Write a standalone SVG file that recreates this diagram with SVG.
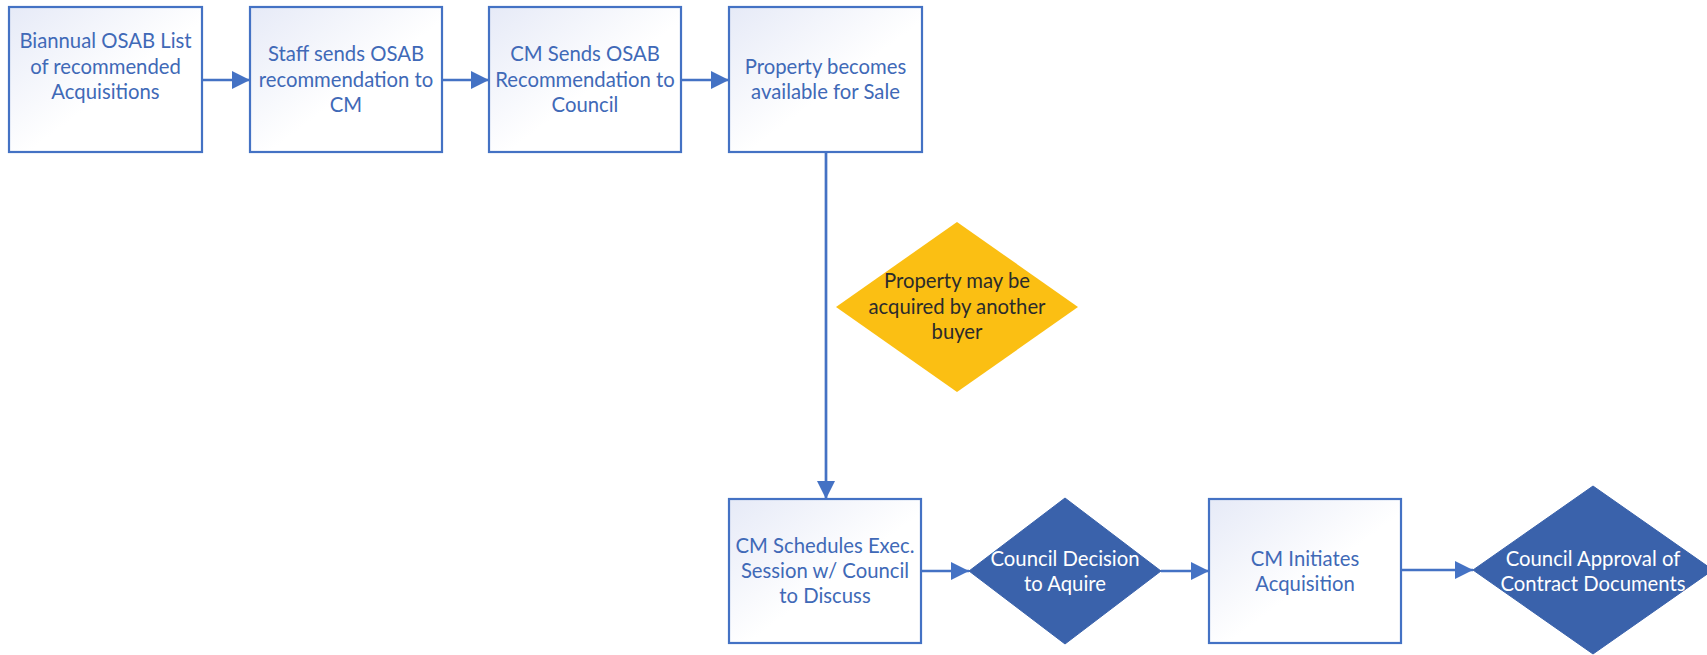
<svg xmlns="http://www.w3.org/2000/svg" width="1707" height="655" viewBox="0 0 1707 655">
<style>
.box{fill:url(#g);stroke:#4472C4;stroke-width:2.2}
.t{font-family:Lato,"Liberation Sans",sans-serif;font-size:20.3px;fill:#4069B7;text-anchor:middle}
.tw{font-family:Lato,"Liberation Sans",sans-serif;font-size:20.3px;fill:#FFFFFF;text-anchor:middle}
.td{font-family:Lato,"Liberation Sans",sans-serif;font-size:20.3px;fill:#2B2B2B;text-anchor:middle}
.dk{fill:#3A62AB;stroke:#3A62AB;stroke-width:1}
.c{stroke:#4472C4;stroke-width:2.7;fill:none;marker-end:url(#a)}
</style>
<defs>
<linearGradient id="g" x1="0" y1="0" x2="1" y2="1">
<stop offset="0" stop-color="#E6EAF7"/>
<stop offset="0.55" stop-color="#FFFFFF"/>
</linearGradient>
<marker id="a" markerUnits="userSpaceOnUse" markerWidth="19" markerHeight="19" refX="18" refY="9" orient="auto" viewBox="0 0 19 19">
<path d="M0,0 L18,9 L0,18 z" fill="#4472C4"/>
</marker>
</defs>
<rect width="1707" height="655" fill="#FFFFFF"/>
<g id="connectors">
<line class="c" x1="202" y1="80" x2="250" y2="80"/>
<line class="c" x1="442" y1="80" x2="489" y2="80"/>
<line class="c" x1="681" y1="80" x2="729" y2="80"/>
<line class="c" x1="826" y1="152" x2="826" y2="499"/>
<line class="c" x1="921" y1="571" x2="969" y2="571"/>
<line class="c" x1="1161" y1="571" x2="1209" y2="571"/>
<line class="c" x1="1401" y1="570" x2="1473" y2="570"/>
</g>
<g id="n1">
<rect class="box" x="9" y="7" width="193" height="145"/>
<text class="t" x="105.5" y="48">Biannual OSAB List</text>
<text class="t" x="105.5" y="73.5">of recommended</text>
<text class="t" x="105.5" y="99">Acquisitions</text>
</g>
<g id="n2">
<rect class="box" x="250" y="7" width="192" height="145"/>
<text class="t" x="346" y="61">Staff sends OSAB</text>
<text class="t" x="346" y="86.5">recommendation to</text>
<text class="t" x="346" y="112">CM</text>
</g>
<g id="n3">
<rect class="box" x="489" y="7" width="192" height="145"/>
<text class="t" x="585" y="61">CM Sends OSAB</text>
<text class="t" x="585" y="86.5">Recommendation to</text>
<text class="t" x="585" y="112">Council</text>
</g>
<g id="n4">
<rect class="box" x="729" y="7" width="193" height="145"/>
<text class="t" x="825.5" y="74">Property becomes</text>
<text class="t" x="825.5" y="99">available for Sale</text>
</g>
<g id="n5">
<polygon points="957,222 1078,307 957,392 836,307" fill="#FBBF13"/>
<text class="td" x="957" y="288">Property may be</text>
<text class="td" x="957" y="314">acquired by another</text>
<text class="td" x="957" y="339">buyer</text>
</g>
<g id="n6">
<rect class="box" x="729" y="499" width="192" height="144"/>
<text class="t" x="825" y="553">CM Schedules Exec.</text>
<text class="t" x="825" y="578">Session w/ Council</text>
<text class="t" x="825" y="603">to Discuss</text>
</g>
<g id="n7">
<polygon class="dk" points="1065,498 1161,571 1065,644 969,571"/>
<text class="tw" x="1065" y="566">Council Decision</text>
<text class="tw" x="1065" y="591">to Aquire</text>
</g>
<g id="n8">
<rect class="box" x="1209" y="499" width="192" height="144"/>
<text class="t" x="1305" y="566">CM Initiates</text>
<text class="t" x="1305" y="591">Acquisition</text>
</g>
<g id="n9">
<polygon class="dk" points="1593,486 1713,570 1593,654 1473,570"/>
<text class="tw" x="1593" y="566">Council Approval of</text>
<text class="tw" x="1593" y="591">Contract Documents</text>
</g>
</svg>
